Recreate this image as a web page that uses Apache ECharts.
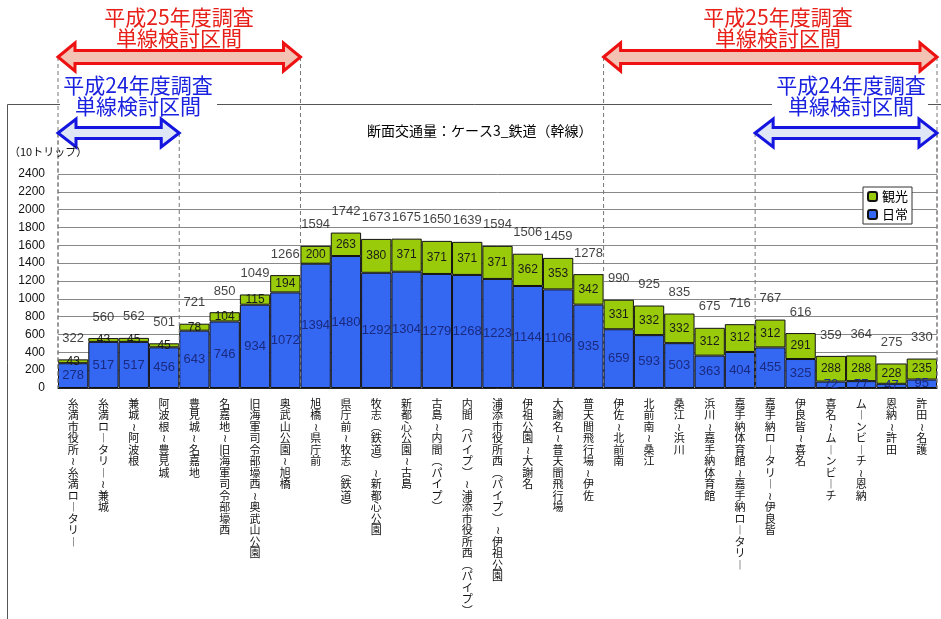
<!DOCTYPE html>
<html><head><meta charset="utf-8">
<script src="https://cdn.jsdelivr.net/npm/echarts@6/dist/echarts.min.js"></script>
<style>html,body{margin:0;padding:0;background:#fff}#c{width:941px;height:619px}</style>
</head><body><div id="c"></div>
<script>
const categories = [
 '糸満市役所～糸満ロータリー','糸満ロータリー～兼城','兼城～阿波根','阿波根～豊見城','豊見城～名嘉地',
 '名嘉地～旧海軍司令部壕西','旧海軍司令部壕西～奥武山公園','奥武山公園～旭橋','旭橋～県庁前','県庁前～牧志（鉄道）',
 '牧志（鉄道）～新都心公園','新都心公園～古島','古島～内間（パイプ）','内間（パイプ）～浦添市役所西（パイプ）','浦添市役所西（パイプ）～伊祖公園',
 '伊祖公園～大謝名','大謝名～普天間飛行場','普天間飛行場～伊佐','伊佐～北前南','北前南～桑江',
 '桑江～浜川','浜川～嘉手納体育館','嘉手納体育館～嘉手納ロータリー','嘉手納ロータリー～伊良皆','伊良皆～喜名',
 '喜名～ムーンビーチ','ムーンビーチ～恩納','恩納～許田','許田～名護'];
const daily   = [278,517,517,456,643,746,934,1072,1394,1480,1292,1304,1279,1268,1223,1144,1106,935,659,593,503,363,404,455,325,72,77,47,95];
const tourism = [43,43,45,45,78,104,115,194,200,263,380,371,371,371,371,362,353,342,331,332,332,312,312,312,291,288,288,228,235];
const totals  = [322,560,562,501,721,850,1049,1266,1594,1742,1673,1675,1650,1639,1594,1506,1459,1278,990,925,835,675,716,767,616,359,364,275,330];
const seriesNames = ['日常','観光'];
const chartTitle = '断面交通量：ケース3_鉄道（幹線）';
const unitLabel = '（10トリップ）';
const annoH25 = ['平成25年度調査','単線検討区間'];
const annoH24 = ['平成24年度調査','単線検討区間'];
// section spans as category boundary indices [from, to]
const spansH25 = [[0,8],[18,29]];
const spansH24 = [[0,4],[23,29]];

const NUM = "'Liberation Sans', Arial, 'Noto Sans CJK JP', sans-serif";
const JP = "'Noto Sans CJK JP', sans-serif";

function vert(s){
  const map = {'ー':'︱','～':'≀','（':'︵','）':'︶','(':'︵',')':'︶'};
  return Array.from(s).map(c => map[c] || c).join('\n');
}

const chart = echarts.init(document.getElementById('c'), null, {renderer:'canvas'});
chart.setOption({
  animation:false,
  backgroundColor:'#fff',
  title:{text:chartTitle,left:362,top:119,textStyle:{fontSize:14,fontWeight:'normal',color:'#000',fontFamily:JP}},
  legend:{
    data:['観光','日常'], orient:'vertical', left:863, top:187,
    backgroundColor:'#fff', borderColor:'#333', borderWidth:1, padding:[3,4,3,4],
    itemWidth:9, itemHeight:9, itemGap:5,
    textStyle:{fontSize:13,color:'#000',fontFamily:JP}
  },
  grid:{left:58,right:4,top:174,bottom:231,containLabel:false},
  xAxis:{
    type:'category', data:categories,
    axisLine:{lineStyle:{color:'#222',width:1}},
    axisTick:{show:false},
    axisLabel:{interval:0,margin:10,fontSize:11,lineHeight:11.5,color:'#111',fontFamily:JP,formatter:vert}
  },
  yAxis:{
    type:'value', min:0, max:2400, interval:200,
    axisLine:{show:false}, axisTick:{show:false},
    axisLabel:{margin:13,fontSize:12,color:'#111',fontFamily:NUM,formatter:v=>String(v)},
    splitLine:{lineStyle:{color:'#888',width:1}}
  },
  series:[
    {name:seriesNames[0],type:'bar',stack:'t',data:daily,barCategoryGap:'0%',
     itemStyle:{color:'#3467f2',borderColor:'#111',borderWidth:1},
     label:{show:true,position:'inside',fontSize:13,color:'#1a2a80',fontFamily:NUM}},
    {name:seriesNames[1],type:'bar',stack:'t',data:tourism,barCategoryGap:'0%',
     itemStyle:{color:'#9acb0a',borderColor:'#111',borderWidth:1},
     label:{show:true,position:'inside',fontSize:12,color:'#1a1a1a',fontFamily:NUM}},
    {name:'合計',type:'scatter',data:totals,symbolSize:1,itemStyle:{color:'rgba(0,0,0,0)'},silent:true,
     label:{show:true,position:'top',distance:14,fontSize:13,color:'#111',fontFamily:NUM}}
  ]
});

// annotation graphics derived from the axis
function bx(i){
  const p0 = chart.convertToPixel({xAxisIndex:0}, 0);
  const p1 = chart.convertToPixel({xAxisIndex:0}, 1);
  const w = p1 - p0;
  return p0 - w/2 + i*w;
}
const y0 = chart.convertToPixel({yAxisIndex:0}, 0);
function arrowPts(x1,x2,yc,L,H,h){
  return [[x1,yc],[x1+L,yc-H],[x1+L,yc-h],[x2-L,yc-h],[x2-L,yc-H],[x2,yc],[x2-L,yc+H],[x2-L,yc+h],[x1+L,yc+h],[x1+L,yc+H]];
}
const g = [];
g.push({type:'polyline',shape:{points:[[7.5,625],[7.5,104.5],[945,104.5]]},style:{stroke:'#555',lineWidth:1,fill:null},z:1});
g.push({type:'rect',shape:{x:60,y:98,width:157,height:12},style:{fill:'#fff'},z:2});
g.push({type:'rect',shape:{x:772,y:98,width:156,height:12},style:{fill:'#fff'},z:2});
const redY = 57, blueY = 133;
spansH25.forEach(([a,b])=>{
  const x1 = bx(a), x2 = bx(b);
  [x1,x2].forEach(x=>g.push({type:'line',shape:{x1:x,y1:redY,x2:x,y2:y0},style:{stroke:'#777',lineWidth:1,lineDash:[4,3]},z:3}));
  g.push({type:'polygon',shape:{points:arrowPts(x1,x2,redY,17,14,6.5)},style:{fill:'#f3c2b3',stroke:'#ee1111',lineWidth:3,lineJoin:'miter'},z:5});
});
spansH24.forEach(([a,b])=>{
  const x1 = bx(a), x2 = bx(b);
  [x1,x2].forEach(x=>g.push({type:'line',shape:{x1:x,y1:blueY,x2:x,y2:y0},style:{stroke:'#777',lineWidth:1,lineDash:[4,3]},z:3}));
  g.push({type:'polygon',shape:{points:arrowPts(x1,x2,blueY,18,14,5.5)},style:{fill:'#dfe7f7',stroke:'#1515e0',lineWidth:3,lineJoin:'miter'},z:5});
});
function twoLine(lines,cx,ya,yb,color){
  g.push({type:'text',style:{x:cx,y:ya,text:lines[0],fill:color,font:'21px '+JP,align:'center',verticalAlign:'middle'},z:6});
  g.push({type:'text',style:{x:cx,y:yb,text:lines[1],fill:color,font:'21px '+JP,align:'center',verticalAlign:'middle'},z:6});
}
twoLine(annoH25,179,17,38,'#e8201a');
twoLine(annoH25,778,17,38,'#e8201a');
twoLine(annoH24,138,85,106,'#1a22e0');
twoLine(annoH24,851,85,106,'#1a22e0');
g.push({type:'text',style:{x:9,y:152,text:unitLabel,fill:'#111',font:'11px '+JP,align:'left',verticalAlign:'middle'},z:6});
chart.setOption({graphic:{elements:g}});
</script>
</body></html>
